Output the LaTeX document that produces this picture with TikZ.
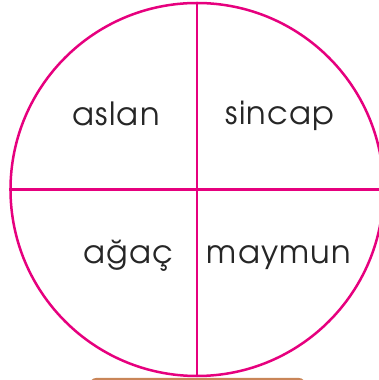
\documentclass[tikz,border=0pt]{standalone}
\usepackage{fontspec}
\setmainfont{TeX Gyre Adventor}
\newfontfamily\wordfont[LetterSpace=4]{TeX Gyre Adventor}
\usepackage{tikz}
\usetikzlibrary{positioning}
\definecolor{wheelpink}{RGB}{230,0,126}
\definecolor{standbrown}{RGB}{201,133,88}

\begin{document}
\begin{tikzpicture}[x=1pt,y=1pt,
line/.style={draw=wheelpink,line width=2.5pt},
word/.style={anchor=base,inner sep=0pt,font=\wordfont\fontsize{32}{32}\selectfont,text=black!85}]
\useasboundingbox (0,0) rectangle (379,380);
\clip (0,0) rectangle (379,380);
\fill[standbrown,rounded corners=6pt] (90,2) rectangle (305,-20);
\node[line,circle,minimum size=373pt,inner sep=0pt] (wheel) at (197,190.5) {};
\coordinate (east) at (390,190.5);
\draw[line] (wheel.north)--(wheel.south);
\draw[line] (wheel.west)--(east);
\node[word] (aslan) at (116,254) {aslan};
\node[word] (sincap) at (280,255) {sincap};
\node[word] (agac) at (128.5,116) {ağaç};
\node[word] (maymun) at (279,116) {maymun};
\end{tikzpicture}
\end{document}
